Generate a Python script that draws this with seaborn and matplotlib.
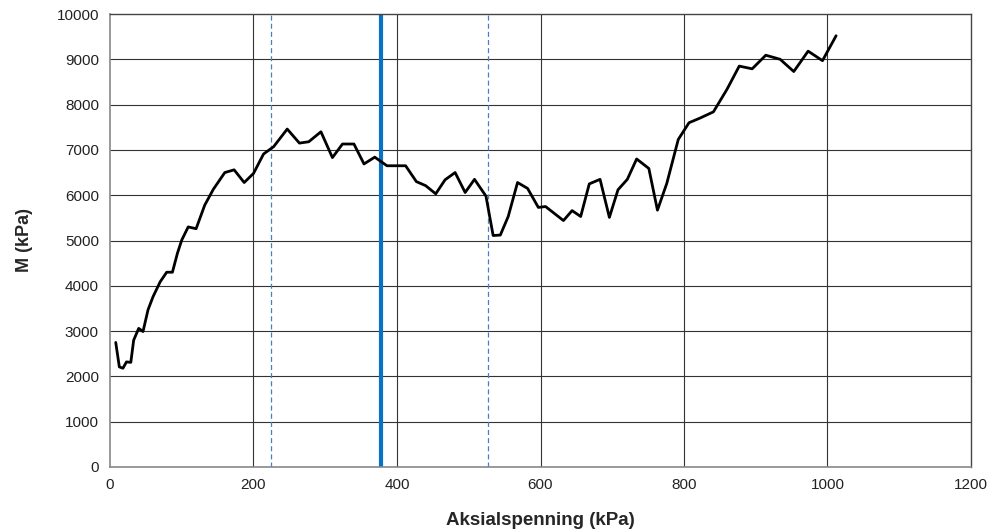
import matplotlib
matplotlib.use("Agg")
import matplotlib.pyplot as plt
import seaborn as sns
import pandas as pd

aksialspenning = [8, 13, 18, 23, 29, 33, 40, 46, 53, 60, 70, 79, 87, 94, 100,
                  109, 120, 132, 144, 160, 173, 187, 200, 214, 228, 247, 264, 277, 294, 310,
                  324, 340, 354, 369, 386, 412, 427, 440, 454, 467, 481, 495, 508, 524, 534,
                  544, 555, 568, 582, 597, 607, 632, 644, 656, 668, 683, 696, 708, 721, 734,
                  751, 763, 776, 792, 807, 822, 841, 860, 877, 895, 914, 934, 953, 973, 993, 1012]
modul = [2750, 2210, 2180, 2320, 2310, 2800, 3060, 2990, 3470, 3760, 4090, 4300, 4300, 4720, 5010,
         5300, 5260, 5780, 6130, 6500, 6560, 6280, 6480, 6910, 7070, 7460, 7150, 7180, 7400, 6830,
         7130, 7130, 6690, 6840, 6650, 6650, 6300, 6210, 6030, 6340, 6500, 6060, 6350, 5980, 5110,
         5120, 5530, 6280, 6150, 5730, 5750, 5440, 5660, 5530, 6250, 6350, 5510, 6120, 6350, 6800,
         6590, 5670, 6260, 7230, 7600, 7700, 7840, 8340, 8850, 8790, 9090, 9000, 8730, 9180, 8970, 9520]
dashed_lines = [224, 527]
solid_line = 378
x_ticks = [0, 200, 400, 600, 800, 1000, 1200]
y_ticks = [0, 1000, 2000, 3000, 4000, 5000, 6000, 7000, 8000, 9000, 10000]

sns.set_style("white")
plt.rcParams['font.family'] = ['Liberation Sans', 'DejaVu Sans']

df = pd.DataFrame({"x": aksialspenning, "y": modul})

fig = plt.figure(figsize=(9.92, 5.31), dpi=100)
ax = fig.add_axes([110/992, 64/531, 861/992, 453/531])

for v in x_ticks[1:-1]:
    ax.axvline(v, color="#333333", lw=0.8, zorder=1)
for v in y_ticks[1:-1]:
    ax.axhline(v, color="#333333", lw=0.8, zorder=1)
for v in dashed_lines:
    ax.axvline(v, color="#4a7fc0", lw=0.9, ls=(0, (4, 2.5)), zorder=2)
ax.axvline(solid_line, color="#0a72c4", lw=3, zorder=2)

sns.lineplot(data=df, x="x", y="y", color="black", lw=2, ax=ax, zorder=3, sort=False)

ax.set_xlim(0, 1200)
ax.set_ylim(0, 10000)
ax.set_xticks(x_ticks)
ax.set_yticks(y_ticks)
ax.tick_params(axis="both", direction="out", length=5, width=0.8, colors="#555555",
               labelcolor="#222222", labelsize=11, pad=3)
for s in ["top", "right"]:
    ax.spines[s].set_color("#444444")
    ax.spines[s].set_linewidth(1.0)
for s in ["left", "bottom"]:
    ax.spines[s].set_color("#888888")
    ax.spines[s].set_linewidth(1.2)

ax.set_xlabel("Aksialspenning (kPa)", fontsize=13.5, fontweight="bold", labelpad=14)
ax.set_ylabel("M (kPa)", fontsize=13, fontweight="bold", labelpad=17)

fig.savefig("out.png", dpi=100)
